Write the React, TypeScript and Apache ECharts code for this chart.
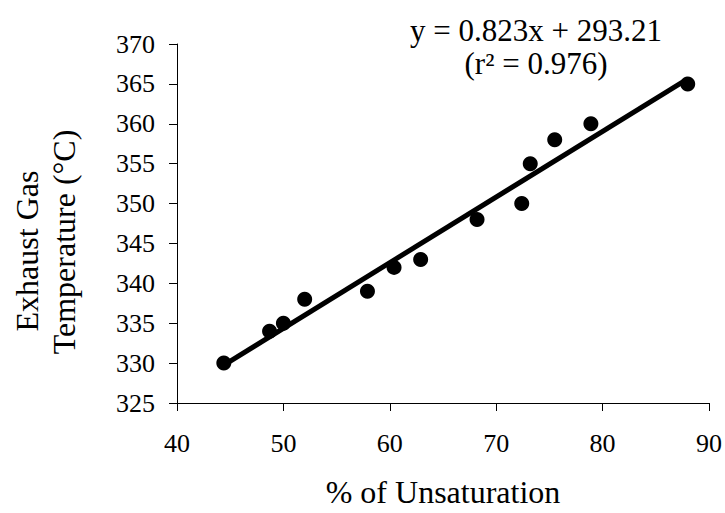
import React, { useEffect, useRef } from "react";
import * as echarts from "echarts";

const unsaturation = [44.4, 48.7, 50.0, 52.0, 57.9, 60.4, 62.9, 68.2, 72.4, 73.2, 75.5, 78.9, 88.0];
const exhaustTemp = [330, 334, 335, 338, 339, 342, 343, 348, 350, 355, 358, 360, 365];
const slope = 0.823;
const intercept = 293.21;
const rSquared = "0.976";
const xTitle = "% of Unsaturation";
const yTitleLines = ["Exhaust Gas", "Temperature (°C)"];

const FONT = "Liberation Serif";

export default function App() {
  const ref = useRef<HTMLDivElement>(null);
  useEffect(() => {
    document.body.style.margin = "0";
    if (!ref.current) return;
    const chart = echarts.init(ref.current, undefined, { renderer: "svg" });
    const xMin = Math.min(...unsaturation);
    const xMax = Math.max(...unsaturation);
    const trend = [xMin, xMax].map((x) => [x, slope * x + intercept]);
    chart.setOption({
      animation: false,
      backgroundColor: "#ffffff",
      textStyle: { fontFamily: FONT, color: "#000" },
      grid: { left: 177, right: 15, top: 44, bottom: 101 },
      xAxis: {
        type: "value",
        min: 40,
        max: 90,
        interval: 10,
        name: xTitle,
        nameLocation: "middle",
        nameGap: 73,
        nameTextStyle: { fontFamily: FONT, fontSize: 32, color: "#000" },
        axisLine: { show: true, onZero: false, lineStyle: { color: "#000", width: 1 } },
        axisTick: { show: true, inside: false, length: 8, lineStyle: { color: "#000" } },
        axisLabel: { fontFamily: FONT, fontSize: 26, color: "#000", margin: 27 },
        splitLine: { show: false },
      },
      yAxis: {
        type: "value",
        min: 325,
        max: 370,
        interval: 5,
        axisLine: { show: true, onZero: false, lineStyle: { color: "#000", width: 1 } },
        axisTick: { show: true, inside: false, length: 8, lineStyle: { color: "#000" } },
        axisLabel: { fontFamily: FONT, fontSize: 26, color: "#000", margin: 22 },
        splitLine: { show: false },
      },
      graphic: [
        {
          type: "text",
          x: 27,
          y: 251,
          rotation: Math.PI / 2,
          style: {
            text: yTitleLines[0],
            fontFamily: FONT,
            fontSize: 32,
            fill: "#000",
            align: "center",
            verticalAlign: "middle",
          },
        },
        {
          type: "text",
          x: 64,
          y: 242,
          rotation: Math.PI / 2,
          style: {
            text: yTitleLines[1],
            fontFamily: FONT,
            fontSize: 32,
            fill: "#000",
            align: "center",
            verticalAlign: "middle",
          },
        },
        {
          type: "text",
          x: 536,
          y: 30,
          style: {
            text: `y = ${slope}x + ${intercept}`,
            fontFamily: FONT,
            fontSize: 31,
            fill: "#000",
            align: "center",
            verticalAlign: "middle",
          },
        },
        {
          type: "text",
          x: 536,
          y: 63,
          style: {
            text: `(r² = ${rSquared})`,
            fontFamily: FONT,
            fontSize: 31,
            fill: "#000",
            align: "center",
            verticalAlign: "middle",
          },
        },
      ],
      series: [
        {
          type: "line",
          data: trend,
          symbol: "none",
          lineStyle: { color: "#000", width: 5 },
          z: 2,
        },
        {
          type: "scatter",
          data: unsaturation.map((x, i) => [x, exhaustTemp[i]]),
          symbol: "circle",
          symbolSize: 15,
          itemStyle: { color: "#000", opacity: 1 },
          z: 3,
        },
      ],
    });
    return () => chart.dispose();
  }, []);
  return <div ref={ref} style={{ width: 725, height: 513 }} />;
}
